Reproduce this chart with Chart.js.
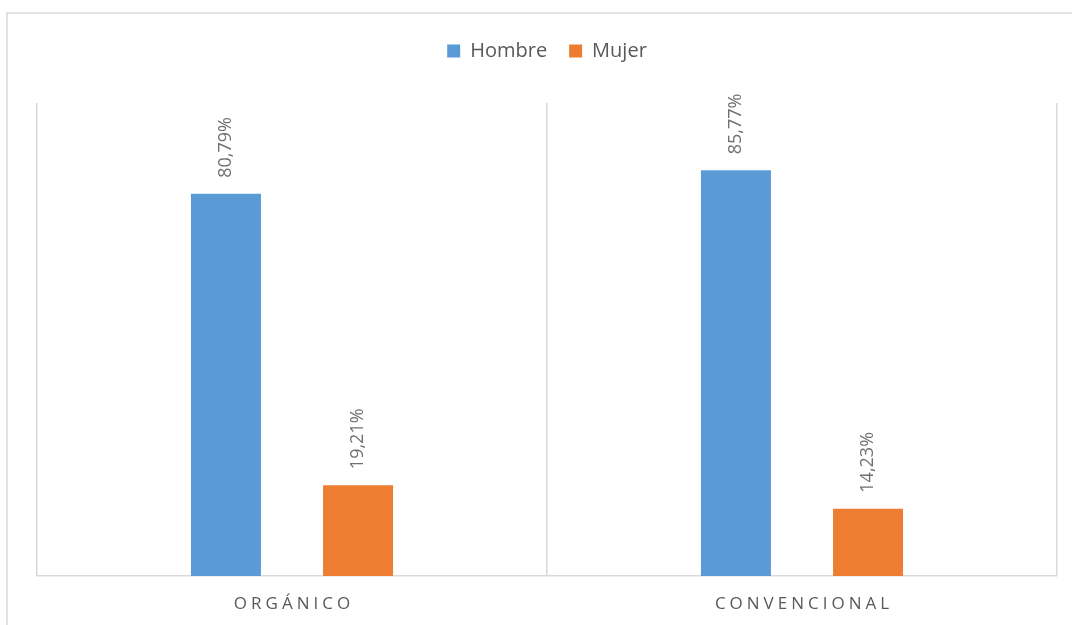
<!DOCTYPE html>
<html>
<head>
<meta charset="utf-8">
<script src="https://cdn.jsdelivr.net/npm/chart.js@4"></script>
<style>
  html, body { margin: 0; padding: 0; background: #fff; }
  #wrap { width: 1072px; height: 625px; }
</style>
</head>
<body>
<div id="wrap"><canvas id="myChart" width="1072" height="625"></canvas></div>
<script>
const categories = ["ORGÁNICO", "CONVENCIONAL"];
const hombre = [80.79, 85.77];
const mujer = [19.21, 14.23];
const seriesNames = ["Hombre", "Mujer"];

const FONT = "'Open Sans', 'Noto Sans', sans-serif";
const pct = v => v.toFixed(2).replace(".", ",") + "%";

// frame around the whole chart (only top/left are visible)
const framePlugin = {
  id: 'frame',
  beforeInit(chart) {
    // leave extra room between legend and plot
    const fit = chart.legend.fit;
    chart.legend.fit = function () {
      fit.call(this);
      this.height += 32;
    };
  },
  beforeDraw(chart) {
    const c = chart.ctx;
    c.save();
    c.strokeStyle = '#d9d9d9';
    c.lineWidth = 1.5;
    c.strokeRect(7, 13, 1200, 800);
    c.restore();
  }
};

// vertical value labels above the bars
const valueLabels = {
  id: 'valueLabels',
  afterDatasetsDraw(chart) {
    const c = chart.ctx;
    c.save();
    c.font = "18px " + FONT;
    c.fillStyle = '#707070';
    c.textAlign = 'left';
    c.textBaseline = 'middle';
    chart.data.datasets.forEach((ds, i) => {
      chart.getDatasetMeta(i).data.forEach((bar, j) => {
        c.save();
        c.translate(bar.x, bar.y - 16);
        c.rotate(-Math.PI / 2);
        c.fillText(pct(ds.data[j]), 0, 0);
        c.restore();
      });
    });
    c.restore();
  }
};

// category names under the axis, letter spaced
const categoryLabels = {
  id: 'categoryLabels',
  afterDraw(chart) {
    const c = chart.ctx;
    const x = chart.scales.x;
    c.save();
    c.font = "17px " + FONT;
    c.fillStyle = '#595959';
    c.letterSpacing = '4px';
    c.textAlign = 'center';
    c.textBaseline = 'middle';
    categories.forEach((name, i) => {
      c.fillText(name, x.getPixelForValue(i) + 2, chart.chartArea.bottom + 28);
    });
    c.restore();
  }
};

const data = {
  labels: categories,
  datasets: [{
    label: seriesNames[0],
    data: hombre,
    backgroundColor: '#5b9bd5'
  }, {
    label: seriesNames[1],
    data: mujer,
    backgroundColor: '#ed7d31'
  }]
};

const config = {
  type: 'bar',
  data: data,
  options: {
    responsive: false,
    animation: false,
    categoryPercentage: 0.518,
    barPercentage: 0.53,
    layout: { padding: { left: 37, right: 15, top: 19, bottom: 49 } },
    plugins: {
      legend: {
        position: 'top',
        labels: {
          boxWidth: 13,
          boxHeight: 13,
          color: '#595959',
          font: { family: FONT, size: 20 },
          padding: 22
        }
      },
      tooltip: { enabled: false }
    },
    scales: {
      x: {
        grid: { display: true, color: '#d9d9d9', lineWidth: 1.5, drawTicks: false, offset: true },
        border: { display: true, color: '#d9d9d9', width: 1.5 },
        ticks: { display: false }
      },
      y: {
        display: false,
        min: 0,
        max: 100
      }
    }
  },
  plugins: [framePlugin, valueLabels, categoryLabels]
};

new Chart(document.querySelector("#myChart"), config);
</script>
</body>
</html>
